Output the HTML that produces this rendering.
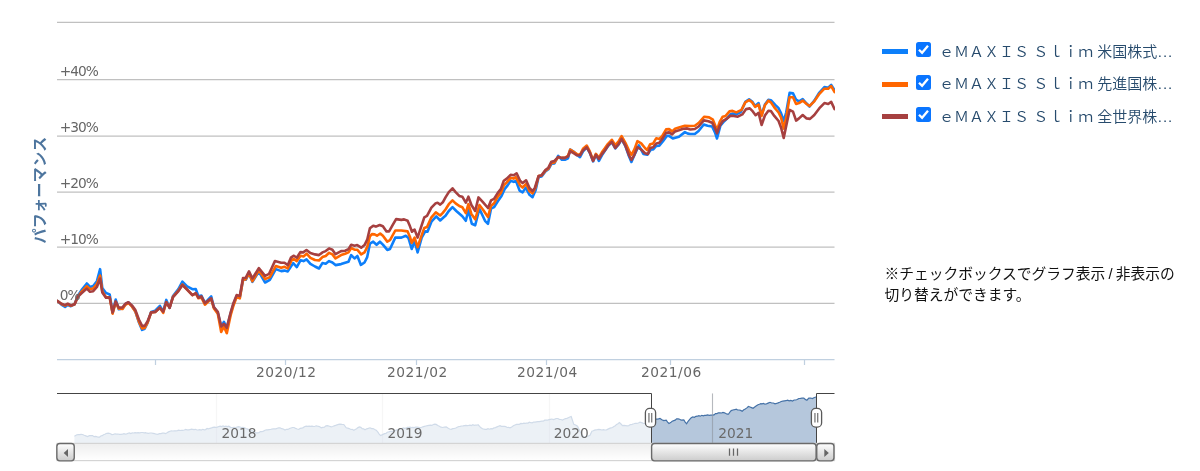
<!DOCTYPE html>
<html lang="ja"><head><meta charset="utf-8"><title>chart</title>
<style>
html,body{margin:0;padding:0;background:#ffffff;}
body{width:1200px;height:471px;position:relative;overflow:hidden;font-family:"Liberation Sans","Noto Sans CJK JP",sans-serif;}
svg text{font-family:"DejaVu Sans","Noto Sans CJK JP",sans-serif;}
.ylab text{font-size:13.75px;fill:#666666;letter-spacing:-1.05px;}
.xlab text{font-size:13.75px;fill:#666666;letter-spacing:0.5px;}
.navlab text{font-size:13.75px;fill:#6a6a6a;}
.ytitle{font-family:"Noto Sans CJK JP",sans-serif;font-size:15px;font-weight:bold;fill:#4d759e;letter-spacing:0.35px;}
.li{position:absolute;left:882px;height:24px;width:318px;white-space:nowrap;}
.ln{position:absolute;left:0;top:9.5px;width:26px;height:5px;}
.cb{position:absolute;left:34px;top:2.8px;width:15px;height:15.2px;border-radius:2.5px;background:#0a75ff;}
.cb svg{display:block}
.lt{position:absolute;left:57px;top:0;line-height:24px;font-size:15px;font-weight:350;color:#274b6d;font-family:"Liberation Sans","Noto Sans CJK JP",sans-serif;}
.dots{letter-spacing:0.9px;margin-left:0.5px;}
.note{position:absolute;left:884.5px;top:264.3px;width:310px;font-size:14.75px;line-height:21px;color:#111111;font-family:"Liberation Sans","Noto Sans CJK JP",sans-serif;}
</style></head><body>
<svg width="860" height="471" viewBox="0 0 860 471" style="position:absolute;left:0;top:0">
<defs>
<linearGradient id="gbar" x1="0" y1="0" x2="0" y2="1"><stop offset="0" stop-color="#ffffff"/><stop offset="1" stop-color="#cccccc"/></linearGradient>
<linearGradient id="gtrack" x1="0" y1="0" x2="0" y2="1"><stop offset="0" stop-color="#eeeeee"/><stop offset="1" stop-color="#ffffff"/></linearGradient>
<clipPath id="csel"><rect x="651.5" y="393" width="165" height="51"/></clipPath>
<clipPath id="cplot"><rect x="57" y="22" width="778" height="338"/></clipPath>
</defs>
<path d="M57 22.3 H834.5" stroke="#c0c0c0" stroke-width="1.25" fill="none"/>
<path d="M57 79.7 H834.5" stroke="#c0c0c0" stroke-width="1.25" fill="none"/>
<path d="M57 136.05 H834.5" stroke="#c0c0c0" stroke-width="1.25" fill="none"/>
<path d="M57 192.0 H834.5" stroke="#c0c0c0" stroke-width="1.25" fill="none"/>
<path d="M57 247.0 H834.5" stroke="#c0c0c0" stroke-width="1.25" fill="none"/>
<path d="M57 303.35 H834.5" stroke="#c0c0c0" stroke-width="1.25" fill="none"/>
<path d="M57 359.55 H834.5" stroke="#c0d0e0" stroke-width="1.35" fill="none"/>
<path d="M155.5 359.4 V365" stroke="#c0d0e0" stroke-width="1.25" fill="none"/>
<path d="M285.5 359.4 V365" stroke="#c0d0e0" stroke-width="1.25" fill="none"/>
<path d="M416.5 359.4 V365" stroke="#c0d0e0" stroke-width="1.25" fill="none"/>
<path d="M546.5 359.4 V365" stroke="#c0d0e0" stroke-width="1.25" fill="none"/>
<path d="M670.5 359.4 V365" stroke="#c0d0e0" stroke-width="1.25" fill="none"/>
<path d="M804.5 359.4 V365" stroke="#c0d0e0" stroke-width="1.25" fill="none"/>
<g class="xlab">
<text x="286.3" y="377.2" text-anchor="middle">2020/12</text>
<text x="417.4" y="377.2" text-anchor="middle">2021/02</text>
<text x="547.4" y="377.2" text-anchor="middle">2021/04</text>
<text x="671.4" y="377.2" text-anchor="middle">2021/06</text>
</g>
<text class="ytitle" transform="translate(45.2,190) rotate(-90)" text-anchor="middle">パフォーマンス</text>
<g clip-path="url(#cplot)" fill="none" stroke-width="2.6" stroke-linejoin="round" stroke-linecap="round">
<path d="M57.5 301.0 L61.4 304.6 L65.1 306.9 L67.7 305.0 L70.9 306.2 L74.6 304.2 L77.8 295.7 L81.5 290.1 L86.8 283.5 L90.0 286.9 L93.2 286.0 L96.9 281.2 L100.1 269.2 L102.3 288.1 L106.0 293.0 L109.7 294.4 L112.6 313.0 L115.7 299.6 L118.8 309.3 L122.5 308.4 L125.4 304.2 L128.4 302.3 L131.9 306.1 L135.4 311.6 L138.9 322.3 L142.1 329.9 L144.7 328.7 L147.6 322.7 L151.1 312.0 L155.2 310.7 L159.9 305.8 L163.2 311.6 L166.3 299.9 L169.6 307.8 L173.0 296.1 L178.4 289.1 L182.4 281.7 L187.1 286.4 L192.4 289.2 L195.8 289.1 L198.4 296.2 L201.4 295.6 L204.9 303.1 L211.2 296.4 L213.8 307.1 L217.8 312.8 L221.2 326.5 L223.9 321.8 L226.8 327.8 L230.6 313.5 L233.2 304.8 L236.6 296.1 L239.8 297.5 L243.0 280.0 L245.7 279.8 L249.0 273.5 L252.4 281.8 L258.8 271.5 L265.1 282.5 L269.8 279.8 L275.8 269.1 L281.2 271.1 L284.5 270.6 L287.8 271.4 L293.2 263.1 L296.8 267.1 L300.6 260.2 L303.5 261.1 L306.5 259.3 L310.4 263.8 L315.0 266.5 L319.0 268.5 L322.4 263.1 L325.7 263.8 L329.1 261.1 L332.4 262.5 L335.5 265.1 L341.1 264.1 L345.1 262.7 L348.5 261.8 L351.2 255.1 L354.5 258.4 L357.4 256.0 L360.9 264.9 L364.5 262.5 L367.2 257.1 L369.9 243.7 L373.2 241.7 L376.6 244.8 L379.9 241.7 L382.9 244.6 L387.3 249.9 L390.0 249.0 L395.3 237.6 L401.4 237.6 L405.8 235.8 L408.5 238.1 L411.7 249.0 L414.6 241.1 L417.6 252.5 L421.7 237.6 L425.2 231.4 L427.5 231.7 L431.4 221.7 L436.3 216.4 L440.2 220.5 L443.7 217.3 L445.5 215.8 L448.8 211.0 L452.5 207.2 L456.3 211.0 L462.3 216.3 L465.8 220.8 L468.4 210.2 L471.8 223.8 L475.2 225.3 L479.4 208.7 L485.0 220.8 L488.0 223.8 L491.0 208.7 L494.0 207.2 L497.8 201.2 L501.5 195.9 L504.6 189.1 L507.6 185.4 L510.6 180.8 L513.6 181.9 L515.9 180.8 L519.6 190.6 L522.6 192.4 L525.7 187.6 L529.5 194.8 L532.5 197.1 L535.6 190.3 L538.6 177.0 L541.6 176.4 L545.4 171.4 L548.4 169.3 L551.4 163.8 L554.4 163.5 L558.2 155.9 L561.9 159.8 L564.9 159.8 L568.0 158.3 L570.2 149.6 L574.0 151.9 L577.0 154.9 L580.0 157.1 L583.0 151.4 L586.8 147.3 L589.8 152.8 L593.1 161.4 L595.9 154.4 L598.9 160.9 L601.9 155.3 L605.0 150.5 L608.0 146.0 L611.8 142.2 L615.3 148.3 L618.6 144.5 L621.6 139.2 L625.4 146.0 L629.1 156.5 L631.4 162.0 L634.4 155.0 L638.9 145.4 L643.4 154.0 L647.2 154.8 L651.0 149.5 L653.2 149.5 L656.3 146.0 L659.3 145.7 L663.0 141.2 L666.8 135.9 L669.1 135.9 L672.8 138.5 L678.9 136.7 L684.9 132.1 L687.9 133.6 L690.3 134.0 L694.8 134.0 L698.6 131.0 L703.8 124.5 L707.6 125.7 L712.1 126.5 L715.2 133.0 L717.0 138.5 L720.4 125.7 L724.2 121.2 L727.0 118.5 L730.2 114.5 L733.0 113.5 L736.3 114.4 L740.8 112.1 L745.3 101.9 L749.1 99.3 L752.1 101.5 L755.1 106.0 L758.6 103.1 L761.6 115.2 L764.9 104.6 L768.4 99.7 L770.9 100.2 L775.2 104.8 L778.6 108.2 L781.1 113.3 L783.7 121.0 L786.2 112.5 L789.6 92.9 L793.0 93.4 L796.1 99.7 L799.0 101.4 L802.7 99.2 L806.6 103.5 L809.5 106.5 L814.3 100.6 L819.4 92.5 L824.4 87.0 L828.2 87.8 L831.2 84.9 L834.6 90.4" stroke="#0d7ffa"/>
<path d="M57.5 301.0 L61.4 304.0 L65.1 305.6 L67.7 304.1 L70.9 305.8 L74.6 304.3 L77.8 296.8 L81.5 291.8 L86.8 286.2 L90.0 289.1 L93.2 288.4 L96.9 284.1 L100.1 275.5 L102.3 291.4 L106.0 297.3 L109.7 297.4 L112.6 313.6 L115.7 302.4 L118.8 308.8 L122.5 309.0 L125.4 304.8 L128.4 302.8 L131.9 306.4 L135.4 311.6 L138.9 321.6 L142.1 328.5 L144.7 328.0 L147.6 322.7 L151.1 312.5 L155.2 311.9 L159.9 307.8 L163.2 312.8 L166.3 302.2 L169.6 307.7 L173.0 296.9 L178.4 290.7 L182.4 284.5 L187.1 289.5 L192.4 295.2 L195.8 293.5 L198.4 298.3 L201.4 297.4 L204.9 304.7 L211.2 298.9 L213.8 308.2 L217.8 313.8 L221.2 331.9 L223.9 326.5 L226.8 333.2 L230.6 315.5 L233.2 306.3 L236.6 297.0 L239.8 298.4 L243.0 279.8 L245.7 279.4 L249.0 273.2 L252.4 281.2 L258.8 270.5 L265.1 279.1 L269.8 277.1 L275.8 266.0 L281.2 267.8 L284.5 266.8 L287.8 268.4 L291.9 259.7 L293.9 259.1 L296.8 261.1 L300.6 255.7 L303.5 256.4 L306.6 253.7 L310.4 257.8 L315.0 260.0 L319.0 260.5 L322.4 257.1 L325.7 256.0 L329.1 252.8 L332.4 254.4 L335.5 258.4 L341.1 255.1 L345.1 253.8 L348.5 252.4 L351.2 248.0 L354.5 249.7 L357.2 249.7 L361.2 254.4 L364.5 252.4 L367.2 247.1 L369.9 236.4 L371.9 234.1 L374.6 234.4 L377.0 235.7 L380.2 233.5 L382.9 235.8 L387.3 241.6 L390.0 240.2 L395.3 230.5 L401.4 230.5 L407.6 231.4 L409.9 236.7 L411.7 242.8 L414.6 237.6 L417.6 247.2 L420.8 237.6 L424.3 227.9 L427.0 227.0 L431.4 217.3 L435.8 212.4 L440.2 215.5 L442.8 212.9 L445.5 209.5 L448.8 204.2 L452.5 200.4 L455.6 203.4 L459.3 206.0 L462.3 207.2 L465.8 213.2 L468.4 204.2 L471.4 214.0 L475.2 219.3 L479.4 205.0 L483.4 210.2 L488.0 217.0 L491.0 205.7 L494.0 203.4 L497.8 196.7 L500.8 192.9 L503.8 185.4 L506.8 182.3 L510.6 177.8 L513.6 178.6 L515.9 177.1 L520.1 185.4 L522.6 187.6 L526.1 183.8 L529.5 191.1 L532.5 193.3 L535.6 187.3 L538.6 176.0 L541.6 175.5 L545.4 170.6 L548.4 168.6 L551.4 162.9 L554.4 162.4 L558.2 157.1 L561.9 157.9 L564.9 157.9 L568.0 155.7 L570.2 149.7 L574.0 152.2 L577.0 154.2 L580.0 154.8 L583.0 148.8 L586.8 145.6 L589.8 151.4 L593.1 160.1 L595.9 153.9 L598.9 157.7 L601.9 152.3 L605.0 148.1 L608.0 143.8 L611.8 139.8 L615.3 145.1 L618.6 141.4 L621.6 136.1 L625.4 142.8 L629.1 150.9 L631.4 154.8 L634.4 149.5 L637.4 141.2 L641.2 143.4 L645.0 148.0 L647.2 150.2 L650.2 144.2 L653.2 143.4 L656.3 138.2 L659.3 138.9 L662.3 135.9 L666.1 129.4 L669.1 129.1 L672.1 131.4 L675.1 128.8 L678.9 127.6 L684.9 125.8 L690.3 126.0 L694.8 125.7 L698.6 123.0 L704.3 116.7 L709.1 117.4 L712.9 119.7 L715.2 125.5 L717.0 130.2 L719.7 121.9 L722.7 116.7 L725.7 115.9 L729.5 111.4 L732.5 110.9 L736.3 112.4 L741.5 109.9 L745.3 102.3 L749.1 100.1 L752.1 102.3 L755.1 106.9 L758.6 104.6 L761.6 115.9 L764.9 105.2 L768.4 100.6 L770.9 102.3 L774.3 107.4 L778.6 112.5 L781.1 117.6 L783.7 128.6 L786.2 117.6 L789.6 97.2 L793.0 97.2 L796.1 104.0 L799.0 103.1 L802.7 100.6 L806.6 104.0 L809.5 106.0 L814.3 101.4 L819.4 93.8 L824.4 88.7 L828.2 88.7 L831.2 86.1 L834.6 92.1" stroke="#ff6600"/>
<path d="M57.5 301.0 L61.4 303.7 L65.1 305.1 L67.7 303.7 L70.9 305.5 L74.6 304.2 L77.8 296.8 L81.5 293.3 L86.8 288.6 L90.0 291.8 L93.2 291.2 L96.9 287.0 L100.1 278.5 L102.3 292.5 L106.0 297.8 L109.7 297.4 L112.6 312.5 L115.7 301.4 L118.8 307.8 L122.5 307.4 L125.4 303.7 L128.4 302.3 L131.9 305.4 L135.4 310.1 L138.9 319.5 L142.1 325.9 L144.7 325.9 L147.6 321.2 L151.1 312.5 L155.2 311.9 L159.9 307.8 L163.2 311.6 L166.3 302.2 L169.6 307.8 L173.0 297.1 L178.4 291.1 L182.4 285.0 L187.1 289.7 L192.4 295.1 L195.8 293.1 L198.4 297.7 L201.4 296.4 L204.9 303.1 L211.2 298.4 L213.8 307.1 L217.8 311.8 L221.2 326.5 L223.9 323.8 L226.8 327.8 L230.6 312.5 L233.2 303.8 L236.6 295.1 L239.8 296.0 L243.0 278.1 L245.7 277.8 L249.0 271.4 L252.4 278.5 L258.8 268.2 L265.1 275.8 L269.1 273.8 L274.9 261.1 L281.2 262.7 L284.5 262.8 L287.8 265.1 L290.9 257.7 L293.9 255.7 L296.8 257.7 L300.3 252.1 L303.2 252.4 L306.5 250.0 L310.4 253.1 L315.0 254.4 L319.0 255.1 L322.4 252.4 L325.7 251.1 L329.1 248.4 L332.4 249.7 L335.5 254.2 L341.1 251.1 L345.1 250.7 L348.5 249.1 L351.2 244.8 L354.5 245.7 L357.2 245.1 L361.2 247.7 L364.5 245.1 L367.2 239.7 L369.9 228.3 L373.2 225.7 L375.9 226.6 L379.7 225.0 L382.9 226.3 L386.5 231.4 L389.1 231.4 L392.6 225.2 L396.1 219.1 L401.4 219.9 L404.1 219.4 L407.6 220.8 L409.9 226.1 L412.0 231.7 L414.6 229.6 L417.6 237.6 L420.8 227.9 L424.3 217.3 L427.0 215.9 L431.4 207.6 L435.8 203.2 L437.6 202.8 L440.2 204.6 L442.8 202.3 L445.5 197.4 L448.8 192.1 L452.5 188.3 L455.6 192.1 L459.3 195.9 L462.3 196.7 L465.8 202.7 L468.4 196.7 L471.4 205.0 L475.2 211.0 L478.5 197.4 L482.7 201.9 L488.0 208.0 L491.0 200.4 L494.0 198.9 L497.8 192.9 L500.8 189.1 L503.8 180.8 L506.8 178.6 L510.6 174.8 L513.6 175.3 L516.6 173.3 L520.1 180.8 L522.6 183.1 L526.1 180.3 L529.5 188.0 L532.5 191.1 L534.8 188.0 L538.6 176.0 L541.6 175.2 L545.4 170.0 L548.4 167.7 L551.4 161.7 L554.4 160.9 L558.2 157.1 L561.9 157.9 L564.9 157.9 L568.0 156.4 L570.2 151.1 L574.0 153.4 L577.0 155.3 L580.0 155.3 L583.0 150.4 L586.8 147.3 L589.8 152.6 L593.1 160.9 L595.9 154.9 L598.9 158.9 L601.9 154.1 L605.0 150.2 L608.0 145.7 L611.8 141.9 L615.3 148.0 L618.6 144.2 L621.6 138.9 L625.4 145.7 L629.1 155.5 L631.4 160.0 L634.4 154.8 L637.4 147.2 L641.2 149.5 L645.0 153.2 L648.0 154.0 L650.2 148.0 L653.2 147.2 L656.3 143.4 L659.3 142.7 L662.3 138.9 L666.1 132.9 L669.1 132.4 L672.1 134.4 L675.1 131.4 L678.9 130.3 L683.4 128.8 L687.2 128.4 L690.3 129.5 L694.8 129.0 L698.6 126.5 L703.8 120.4 L708.4 121.2 L712.1 122.7 L715.2 128.7 L717.0 133.2 L719.7 125.7 L722.7 121.2 L726.5 118.9 L730.2 115.9 L734.0 115.9 L737.8 116.7 L742.3 114.4 L746.1 109.1 L749.8 108.4 L752.8 111.4 L755.6 115.2 L758.6 112.9 L761.6 125.0 L764.9 115.5 L768.4 110.8 L770.9 111.1 L774.3 115.9 L778.6 121.0 L781.1 127.7 L783.7 137.9 L786.2 126.0 L789.6 109.9 L793.0 111.6 L796.1 120.6 L799.0 118.4 L802.7 115.0 L806.6 118.4 L810.0 118.9 L814.3 115.0 L819.4 108.2 L824.4 103.1 L828.2 104.0 L831.2 101.9 L834.6 109.1" stroke="#a64040"/>
</g>
<g class="ylab">
<text x="59.8" y="75.5">+40%</text>
<text x="59.8" y="131.5">+30%</text>
<text x="59.8" y="187.5">+20%</text>
<text x="59.8" y="243.5">+10%</text>
<text x="59.8" y="299.5">0%</text>
</g>
<path d="M216.5 393.5 V443.5" stroke="#dadada" stroke-width="1.25"/>
<path d="M382.5 393.5 V443.5" stroke="#dadada" stroke-width="1.25"/>
<path d="M549.5 393.5 V443.5" stroke="#dadada" stroke-width="1.25"/>
<path d="M712.5 393.5 V443.5" stroke="#dadada" stroke-width="1.25"/>
<path d="M74.4 436.2 L76.9 434.8 L78.3 434.5 L79.7 434.7 L81.1 434.4 L82.5 434.5 L84.2 435.3 L85.8 435.9 L87.5 436.5 L89.4 435.7 L91.2 435.6 L92.6 435.5 L94.0 436.6 L95.4 436.4 L96.7 436.7 L98.1 437.2 L99.5 437.1 L100.8 436.0 L102.2 435.7 L103.5 434.7 L104.9 434.3 L106.2 433.5 L108.1 433.2 L110.0 433.5 L111.9 434.6 L113.5 434.3 L115.0 433.8 L116.5 434.2 L118.0 434.0 L119.5 434.3 L121.0 434.3 L122.5 434.2 L123.9 433.7 L125.3 434.1 L126.7 433.8 L128.1 433.3 L129.4 432.9 L130.8 433.5 L132.2 432.9 L133.6 433.0 L135.0 432.6 L136.6 432.9 L138.1 432.7 L139.7 432.9 L141.2 432.5 L142.7 432.5 L144.2 432.9 L145.6 432.7 L147.1 433.2 L148.5 433.3 L150.0 433.0 L151.6 433.0 L153.1 433.3 L154.7 433.7 L156.2 434.2 L157.8 434.4 L159.4 433.7 L160.9 433.6 L162.5 433.2 L164.1 433.2 L165.6 433.5 L167.1 432.8 L168.5 431.9 L170.0 431.2 L171.5 430.9 L172.9 431.0 L174.4 430.8 L175.8 430.9 L177.3 430.6 L178.8 430.2 L180.1 430.5 L181.5 430.3 L182.9 430.4 L184.3 430.0 L185.7 429.4 L187.1 429.9 L188.5 429.9 L189.9 429.7 L191.2 429.2 L192.7 429.4 L194.1 429.7 L195.5 429.3 L197.0 430.0 L198.4 429.9 L199.8 429.7 L201.2 430.0 L202.7 429.3 L204.2 429.8 L205.6 429.6 L207.1 428.5 L208.5 428.9 L210.0 428.3 L211.5 427.9 L212.9 427.4 L214.4 427.2 L215.8 427.3 L217.3 427.1 L218.8 426.5 L220.2 426.1 L221.6 426.5 L223.0 426.0 L224.5 426.6 L225.9 426.2 L227.3 426.6 L228.8 426.2 L230.6 427.3 L232.5 427.5 L234.0 427.4 L235.5 427.7 L237.0 427.0 L238.5 426.7 L240.0 427.0 L241.5 427.5 L243.0 427.3 L244.5 427.9 L246.0 428.5 L247.7 429.1 L249.3 429.9 L251.0 430.5 L252.5 430.9 L254.1 431.6 L255.6 432.8 L257.5 432.8 L259.0 432.6 L260.5 431.6 L262.0 431.7 L263.5 431.1 L265.0 430.2 L266.4 429.9 L267.7 429.8 L269.1 429.6 L270.5 429.5 L271.8 429.2 L273.2 428.9 L274.5 428.8 L275.9 428.8 L277.3 428.2 L278.6 427.9 L280.0 427.8 L281.7 428.7 L283.3 429.0 L285.0 430.0 L286.5 429.3 L288.0 429.4 L289.5 428.5 L291.0 428.0 L292.5 427.5 L294.1 427.5 L295.6 428.4 L297.2 429.0 L298.8 429.4 L300.2 428.3 L301.8 428.2 L303.2 427.6 L304.8 426.5 L306.2 426.2 L307.7 426.4 L309.1 426.2 L310.5 426.4 L311.9 426.1 L313.3 426.4 L314.7 426.5 L316.1 425.8 L317.5 426.2 L319.4 426.6 L321.2 427.8 L322.8 427.4 L324.4 427.1 L325.9 425.9 L327.5 425.6 L329.4 426.2 L331.2 426.9 L332.7 426.5 L334.2 425.8 L335.6 425.4 L337.1 424.9 L338.5 424.4 L340.0 424.1 L341.9 424.4 L343.8 424.5 L346.2 427.8 L347.8 428.1 L349.2 428.6 L350.8 429.5 L352.2 429.3 L353.8 430.2 L355.2 429.5 L356.6 428.8 L358.0 427.6 L359.4 426.9 L360.8 427.4 L362.2 428.6 L363.6 428.8 L365.0 429.8 L366.7 428.8 L368.3 428.4 L370.0 427.8 L371.6 428.6 L373.1 428.6 L374.7 429.5 L376.2 430.2 L377.7 431.9 L379.2 434.1 L380.6 435.6 L383.1 434.4 L384.5 433.7 L385.9 433.5 L387.3 432.2 L388.8 431.9 L390.3 431.4 L391.9 431.3 L393.4 431.2 L395.0 430.5 L396.4 430.1 L397.8 429.5 L399.2 429.0 L400.6 428.9 L402.0 428.5 L403.3 428.0 L404.7 428.4 L406.0 428.2 L407.3 427.4 L408.7 427.3 L410.0 427.2 L411.4 427.6 L412.8 427.4 L414.2 427.6 L415.6 427.2 L417.0 427.1 L418.4 427.3 L419.8 427.7 L421.2 427.5 L422.8 426.8 L424.4 426.4 L425.9 426.0 L427.5 425.6 L429.0 425.3 L430.4 425.1 L431.9 425.4 L433.3 424.5 L434.8 424.2 L436.2 424.4 L437.8 425.6 L439.4 426.3 L440.9 427.2 L442.5 427.5 L444.4 427.1 L446.2 426.9 L447.9 428.1 L449.6 429.0 L451.2 429.4 L452.8 428.6 L454.2 428.5 L455.8 428.0 L457.2 427.2 L458.8 426.5 L460.2 426.4 L461.6 426.0 L463.0 425.9 L464.5 425.6 L465.9 425.3 L467.3 425.6 L468.8 425.4 L470.1 425.1 L471.4 425.5 L472.8 424.7 L474.1 425.4 L475.4 425.1 L476.8 425.2 L478.1 424.8 L479.6 426.4 L481.0 427.8 L482.5 428.8 L485.0 429.4 L486.5 429.3 L488.0 428.7 L489.5 429.2 L491.0 428.6 L492.5 428.8 L494.0 427.9 L495.5 427.6 L497.0 426.9 L498.5 426.2 L500.0 425.6 L501.4 426.3 L502.9 426.3 L504.3 426.4 L505.7 426.6 L507.1 427.5 L508.6 427.4 L510.0 427.8 L511.7 427.1 L513.3 425.8 L515.0 425.0 L516.5 424.4 L517.9 424.4 L519.4 424.3 L520.8 423.4 L522.3 423.7 L523.8 423.1 L525.2 423.4 L526.6 423.2 L528.0 423.1 L529.4 422.2 L530.8 422.7 L532.2 422.8 L533.6 422.0 L535.0 422.2 L536.4 421.8 L537.8 421.6 L539.2 421.6 L540.6 421.3 L541.9 421.1 L543.3 421.2 L544.7 420.2 L546.1 420.1 L547.5 420.2 L549.0 419.6 L550.4 419.3 L551.9 419.0 L553.3 419.5 L554.8 419.1 L556.2 418.5 L557.8 418.5 L559.4 419.3 L560.9 419.5 L562.5 420.0 L564.0 419.2 L565.4 418.7 L566.9 418.4 L568.3 417.7 L569.8 417.0 L571.2 416.5 L573.8 424.4 L575.6 425.0 L577.5 426.2 L580.0 431.2 L581.9 434.2 L583.8 437.5 L585.3 436.6 L586.9 436.4 L588.4 436.0 L590.0 435.2 L591.9 431.2 L593.3 430.8 L594.6 430.1 L596.0 429.9 L597.4 429.7 L598.8 429.4 L600.3 429.6 L601.9 430.0 L603.4 429.7 L605.0 430.0 L606.5 429.8 L608.0 429.1 L609.5 428.4 L611.0 427.9 L612.5 427.5 L613.9 426.5 L615.3 425.7 L616.6 424.4 L618.0 423.7 L619.4 422.5 L621.0 424.0 L622.5 425.6 L624.1 425.4 L625.6 425.6 L627.2 425.8 L628.8 425.6 L630.4 424.6 L632.1 424.3 L633.8 423.8 L635.3 423.3 L636.9 423.3 L638.4 423.0 L640.0 422.2 L641.7 422.6 L643.3 423.4 L645.0 423.5 L646.3 423.1 L647.6 421.9 L648.9 421.4 L650.2 420.4 L651.5 420.0 L652.9 419.9 L654.2 419.5 L655.6 419.0 L657.1 419.2 L658.5 418.9 L660.0 418.5 L661.9 419.7 L663.8 420.6 L666.2 420.2 L667.6 422.1 L669.0 423.5 L670.6 422.6 L672.2 421.2 L673.8 420.6 L675.2 420.1 L676.6 418.9 L678.1 418.8 L679.7 419.2 L681.2 420.2 L683.8 420.0 L685.2 422.1 L686.6 423.8 L688.1 421.3 L689.7 419.4 L691.2 417.8 L692.8 417.0 L694.4 417.3 L695.9 416.3 L697.5 416.2 L698.9 415.6 L700.4 416.2 L701.8 415.3 L703.2 415.8 L704.6 415.4 L706.1 415.4 L707.5 414.9 L709.2 415.4 L710.8 415.2 L712.5 415.2 L714.0 414.9 L715.5 413.6 L716.9 413.6 L718.4 412.8 L719.9 412.8 L721.5 413.0 L723.0 412.4 L724.5 412.8 L725.8 413.5 L727.2 414.1 L728.5 414.2 L729.9 412.0 L731.2 410.6 L732.9 410.0 L734.6 409.7 L736.2 409.2 L737.7 410.0 L739.2 410.0 L740.7 410.4 L742.2 411.2 L743.8 409.8 L745.3 409.0 L746.9 407.9 L748.4 406.5 L750.0 407.0 L751.5 407.6 L753.1 408.3 L754.7 407.0 L756.4 405.8 L758.0 404.7 L759.4 404.3 L760.8 403.7 L762.1 403.8 L763.5 403.5 L764.9 404.2 L766.2 404.0 L768.1 403.1 L770.0 402.3 L771.7 403.0 L773.3 403.0 L775.0 403.8 L776.6 403.4 L778.1 402.9 L779.7 402.2 L781.2 401.5 L782.8 401.2 L784.4 400.9 L785.9 400.7 L787.5 400.2 L789.2 400.9 L790.8 400.4 L792.5 401.0 L794.1 400.0 L795.6 400.0 L797.2 399.5 L798.8 398.5 L800.4 398.4 L802.1 398.2 L803.8 398.1 L805.3 399.4 L806.9 400.2 L808.8 398.1 L810.6 398.0 L812.5 398.5 L813.8 397.8 L815.2 397.2 L816.5 396.9 L816.5 443.5 L74.4 443.5 Z" fill="#4572a7" fill-opacity="0.4"/>
<path d="M74.4 436.2 L76.9 434.8 L78.3 434.5 L79.7 434.7 L81.1 434.4 L82.5 434.5 L84.2 435.3 L85.8 435.9 L87.5 436.5 L89.4 435.7 L91.2 435.6 L92.6 435.5 L94.0 436.6 L95.4 436.4 L96.7 436.7 L98.1 437.2 L99.5 437.1 L100.8 436.0 L102.2 435.7 L103.5 434.7 L104.9 434.3 L106.2 433.5 L108.1 433.2 L110.0 433.5 L111.9 434.6 L113.5 434.3 L115.0 433.8 L116.5 434.2 L118.0 434.0 L119.5 434.3 L121.0 434.3 L122.5 434.2 L123.9 433.7 L125.3 434.1 L126.7 433.8 L128.1 433.3 L129.4 432.9 L130.8 433.5 L132.2 432.9 L133.6 433.0 L135.0 432.6 L136.6 432.9 L138.1 432.7 L139.7 432.9 L141.2 432.5 L142.7 432.5 L144.2 432.9 L145.6 432.7 L147.1 433.2 L148.5 433.3 L150.0 433.0 L151.6 433.0 L153.1 433.3 L154.7 433.7 L156.2 434.2 L157.8 434.4 L159.4 433.7 L160.9 433.6 L162.5 433.2 L164.1 433.2 L165.6 433.5 L167.1 432.8 L168.5 431.9 L170.0 431.2 L171.5 430.9 L172.9 431.0 L174.4 430.8 L175.8 430.9 L177.3 430.6 L178.8 430.2 L180.1 430.5 L181.5 430.3 L182.9 430.4 L184.3 430.0 L185.7 429.4 L187.1 429.9 L188.5 429.9 L189.9 429.7 L191.2 429.2 L192.7 429.4 L194.1 429.7 L195.5 429.3 L197.0 430.0 L198.4 429.9 L199.8 429.7 L201.2 430.0 L202.7 429.3 L204.2 429.8 L205.6 429.6 L207.1 428.5 L208.5 428.9 L210.0 428.3 L211.5 427.9 L212.9 427.4 L214.4 427.2 L215.8 427.3 L217.3 427.1 L218.8 426.5 L220.2 426.1 L221.6 426.5 L223.0 426.0 L224.5 426.6 L225.9 426.2 L227.3 426.6 L228.8 426.2 L230.6 427.3 L232.5 427.5 L234.0 427.4 L235.5 427.7 L237.0 427.0 L238.5 426.7 L240.0 427.0 L241.5 427.5 L243.0 427.3 L244.5 427.9 L246.0 428.5 L247.7 429.1 L249.3 429.9 L251.0 430.5 L252.5 430.9 L254.1 431.6 L255.6 432.8 L257.5 432.8 L259.0 432.6 L260.5 431.6 L262.0 431.7 L263.5 431.1 L265.0 430.2 L266.4 429.9 L267.7 429.8 L269.1 429.6 L270.5 429.5 L271.8 429.2 L273.2 428.9 L274.5 428.8 L275.9 428.8 L277.3 428.2 L278.6 427.9 L280.0 427.8 L281.7 428.7 L283.3 429.0 L285.0 430.0 L286.5 429.3 L288.0 429.4 L289.5 428.5 L291.0 428.0 L292.5 427.5 L294.1 427.5 L295.6 428.4 L297.2 429.0 L298.8 429.4 L300.2 428.3 L301.8 428.2 L303.2 427.6 L304.8 426.5 L306.2 426.2 L307.7 426.4 L309.1 426.2 L310.5 426.4 L311.9 426.1 L313.3 426.4 L314.7 426.5 L316.1 425.8 L317.5 426.2 L319.4 426.6 L321.2 427.8 L322.8 427.4 L324.4 427.1 L325.9 425.9 L327.5 425.6 L329.4 426.2 L331.2 426.9 L332.7 426.5 L334.2 425.8 L335.6 425.4 L337.1 424.9 L338.5 424.4 L340.0 424.1 L341.9 424.4 L343.8 424.5 L346.2 427.8 L347.8 428.1 L349.2 428.6 L350.8 429.5 L352.2 429.3 L353.8 430.2 L355.2 429.5 L356.6 428.8 L358.0 427.6 L359.4 426.9 L360.8 427.4 L362.2 428.6 L363.6 428.8 L365.0 429.8 L366.7 428.8 L368.3 428.4 L370.0 427.8 L371.6 428.6 L373.1 428.6 L374.7 429.5 L376.2 430.2 L377.7 431.9 L379.2 434.1 L380.6 435.6 L383.1 434.4 L384.5 433.7 L385.9 433.5 L387.3 432.2 L388.8 431.9 L390.3 431.4 L391.9 431.3 L393.4 431.2 L395.0 430.5 L396.4 430.1 L397.8 429.5 L399.2 429.0 L400.6 428.9 L402.0 428.5 L403.3 428.0 L404.7 428.4 L406.0 428.2 L407.3 427.4 L408.7 427.3 L410.0 427.2 L411.4 427.6 L412.8 427.4 L414.2 427.6 L415.6 427.2 L417.0 427.1 L418.4 427.3 L419.8 427.7 L421.2 427.5 L422.8 426.8 L424.4 426.4 L425.9 426.0 L427.5 425.6 L429.0 425.3 L430.4 425.1 L431.9 425.4 L433.3 424.5 L434.8 424.2 L436.2 424.4 L437.8 425.6 L439.4 426.3 L440.9 427.2 L442.5 427.5 L444.4 427.1 L446.2 426.9 L447.9 428.1 L449.6 429.0 L451.2 429.4 L452.8 428.6 L454.2 428.5 L455.8 428.0 L457.2 427.2 L458.8 426.5 L460.2 426.4 L461.6 426.0 L463.0 425.9 L464.5 425.6 L465.9 425.3 L467.3 425.6 L468.8 425.4 L470.1 425.1 L471.4 425.5 L472.8 424.7 L474.1 425.4 L475.4 425.1 L476.8 425.2 L478.1 424.8 L479.6 426.4 L481.0 427.8 L482.5 428.8 L485.0 429.4 L486.5 429.3 L488.0 428.7 L489.5 429.2 L491.0 428.6 L492.5 428.8 L494.0 427.9 L495.5 427.6 L497.0 426.9 L498.5 426.2 L500.0 425.6 L501.4 426.3 L502.9 426.3 L504.3 426.4 L505.7 426.6 L507.1 427.5 L508.6 427.4 L510.0 427.8 L511.7 427.1 L513.3 425.8 L515.0 425.0 L516.5 424.4 L517.9 424.4 L519.4 424.3 L520.8 423.4 L522.3 423.7 L523.8 423.1 L525.2 423.4 L526.6 423.2 L528.0 423.1 L529.4 422.2 L530.8 422.7 L532.2 422.8 L533.6 422.0 L535.0 422.2 L536.4 421.8 L537.8 421.6 L539.2 421.6 L540.6 421.3 L541.9 421.1 L543.3 421.2 L544.7 420.2 L546.1 420.1 L547.5 420.2 L549.0 419.6 L550.4 419.3 L551.9 419.0 L553.3 419.5 L554.8 419.1 L556.2 418.5 L557.8 418.5 L559.4 419.3 L560.9 419.5 L562.5 420.0 L564.0 419.2 L565.4 418.7 L566.9 418.4 L568.3 417.7 L569.8 417.0 L571.2 416.5 L573.8 424.4 L575.6 425.0 L577.5 426.2 L580.0 431.2 L581.9 434.2 L583.8 437.5 L585.3 436.6 L586.9 436.4 L588.4 436.0 L590.0 435.2 L591.9 431.2 L593.3 430.8 L594.6 430.1 L596.0 429.9 L597.4 429.7 L598.8 429.4 L600.3 429.6 L601.9 430.0 L603.4 429.7 L605.0 430.0 L606.5 429.8 L608.0 429.1 L609.5 428.4 L611.0 427.9 L612.5 427.5 L613.9 426.5 L615.3 425.7 L616.6 424.4 L618.0 423.7 L619.4 422.5 L621.0 424.0 L622.5 425.6 L624.1 425.4 L625.6 425.6 L627.2 425.8 L628.8 425.6 L630.4 424.6 L632.1 424.3 L633.8 423.8 L635.3 423.3 L636.9 423.3 L638.4 423.0 L640.0 422.2 L641.7 422.6 L643.3 423.4 L645.0 423.5 L646.3 423.1 L647.6 421.9 L648.9 421.4 L650.2 420.4 L651.5 420.0 L652.9 419.9 L654.2 419.5 L655.6 419.0 L657.1 419.2 L658.5 418.9 L660.0 418.5 L661.9 419.7 L663.8 420.6 L666.2 420.2 L667.6 422.1 L669.0 423.5 L670.6 422.6 L672.2 421.2 L673.8 420.6 L675.2 420.1 L676.6 418.9 L678.1 418.8 L679.7 419.2 L681.2 420.2 L683.8 420.0 L685.2 422.1 L686.6 423.8 L688.1 421.3 L689.7 419.4 L691.2 417.8 L692.8 417.0 L694.4 417.3 L695.9 416.3 L697.5 416.2 L698.9 415.6 L700.4 416.2 L701.8 415.3 L703.2 415.8 L704.6 415.4 L706.1 415.4 L707.5 414.9 L709.2 415.4 L710.8 415.2 L712.5 415.2 L714.0 414.9 L715.5 413.6 L716.9 413.6 L718.4 412.8 L719.9 412.8 L721.5 413.0 L723.0 412.4 L724.5 412.8 L725.8 413.5 L727.2 414.1 L728.5 414.2 L729.9 412.0 L731.2 410.6 L732.9 410.0 L734.6 409.7 L736.2 409.2 L737.7 410.0 L739.2 410.0 L740.7 410.4 L742.2 411.2 L743.8 409.8 L745.3 409.0 L746.9 407.9 L748.4 406.5 L750.0 407.0 L751.5 407.6 L753.1 408.3 L754.7 407.0 L756.4 405.8 L758.0 404.7 L759.4 404.3 L760.8 403.7 L762.1 403.8 L763.5 403.5 L764.9 404.2 L766.2 404.0 L768.1 403.1 L770.0 402.3 L771.7 403.0 L773.3 403.0 L775.0 403.8 L776.6 403.4 L778.1 402.9 L779.7 402.2 L781.2 401.5 L782.8 401.2 L784.4 400.9 L785.9 400.7 L787.5 400.2 L789.2 400.9 L790.8 400.4 L792.5 401.0 L794.1 400.0 L795.6 400.0 L797.2 399.5 L798.8 398.5 L800.4 398.4 L802.1 398.2 L803.8 398.1 L805.3 399.4 L806.9 400.2 L808.8 398.1 L810.6 398.0 L812.5 398.5 L813.8 397.8 L815.2 397.2 L816.5 396.9" fill="none" stroke="#4572a7" stroke-width="1.2"/>
<rect x="57" y="393.5" width="594.5" height="50" fill="#ffffff" fill-opacity="0.75"/>
<rect x="816.5" y="393.5" width="18" height="50" fill="#ffffff" fill-opacity="0.75"/>
<path d="M712.5 393.5 V443.5" stroke="#9a9fa8" stroke-width="1" opacity="0.55"/>
<g class="navlab">
<text x="221.6" y="438.1">2018</text>
<text x="387.4" y="438.1">2019</text>
<text x="553.8" y="438.1">2020</text>
<text x="718.2" y="438.1">2021</text>
</g>
<path d="M57 393.5 H651.5 V443.5 M816.5 443.5 V393.5 H834.5" stroke="#444444" stroke-width="1" fill="none"/>
<rect x="57" y="443.4" width="777.5" height="17.2" fill="url(#gtrack)" stroke="#d4d4d4" stroke-width="1.2"/>
<rect x="651.6" y="443.45" width="164.5" height="17.4" rx="3" fill="url(#gbar)" stroke="#6a6a6a" stroke-width="1.4"/>
<path d="M729.5 448.6 V455.8 M733.5 448.6 V455.8 M737.5 448.6 V455.8" stroke="#666666" stroke-width="1.25" fill="none"/>
<rect x="56.85" y="443.45" width="17.4" height="17.4" rx="3" fill="url(#gbar)" stroke="#6a6a6a" stroke-width="1.4"/>
<rect x="816.75" y="443.45" width="17.2" height="17.4" rx="3" fill="url(#gbar)" stroke="#6a6a6a" stroke-width="1.4"/>
<path d="M68 449 V457 L63.7 453 Z" fill="#666666"/>
<path d="M824.3 449 V457 L828.8 453 Z" fill="#666666"/>
<rect x="645.4" y="408.4" width="10.2" height="18.7" rx="4.2" fill="#ffffff" stroke="#5a5a5a" stroke-width="1.3"/>
<path d="M648.95 413 V422.6 M651.75 413 V422.6" stroke="#626262" stroke-width="1.1" fill="none"/>
<rect x="811.4" y="408.4" width="10.2" height="18.7" rx="4.2" fill="#ffffff" stroke="#5a5a5a" stroke-width="1.3"/>
<path d="M814.95 413 V422.6 M817.75 413 V422.6" stroke="#626262" stroke-width="1.1" fill="none"/>
</svg>
<div class="li" style="top:39.5px"><span class="ln" style="background:#0d7ffa"></span><span class="cb"><svg width="15" height="15" viewBox="0 0 15 15"><path d="M3 7.7 L6.1 10.8 L12 3.8" fill="none" stroke="#ffffff" stroke-width="2.3" stroke-linecap="butt" stroke-linejoin="miter"/></svg></span><span class="lt">ｅＭＡＸＩＳ Ｓｌｉｍ 米国株式<span class="dots">...</span></span></div>
<div class="li" style="top:72px"><span class="ln" style="background:#ff6600"></span><span class="cb"><svg width="15" height="15" viewBox="0 0 15 15"><path d="M3 7.7 L6.1 10.8 L12 3.8" fill="none" stroke="#ffffff" stroke-width="2.3" stroke-linecap="butt" stroke-linejoin="miter"/></svg></span><span class="lt">ｅＭＡＸＩＳ Ｓｌｉｍ 先進国株<span class="dots">...</span></span></div>
<div class="li" style="top:104.5px"><span class="ln" style="background:#a64040"></span><span class="cb"><svg width="15" height="15" viewBox="0 0 15 15"><path d="M3 7.7 L6.1 10.8 L12 3.8" fill="none" stroke="#ffffff" stroke-width="2.3" stroke-linecap="butt" stroke-linejoin="miter"/></svg></span><span class="lt">ｅＭＡＸＩＳ Ｓｌｉｍ 全世界株<span class="dots">...</span></span></div>
<div class="note">※チェックボックスでグラフ表示<span style="margin:0 3.2px">/</span>非表示の<br>切り替えができます。</div>
</body></html>
